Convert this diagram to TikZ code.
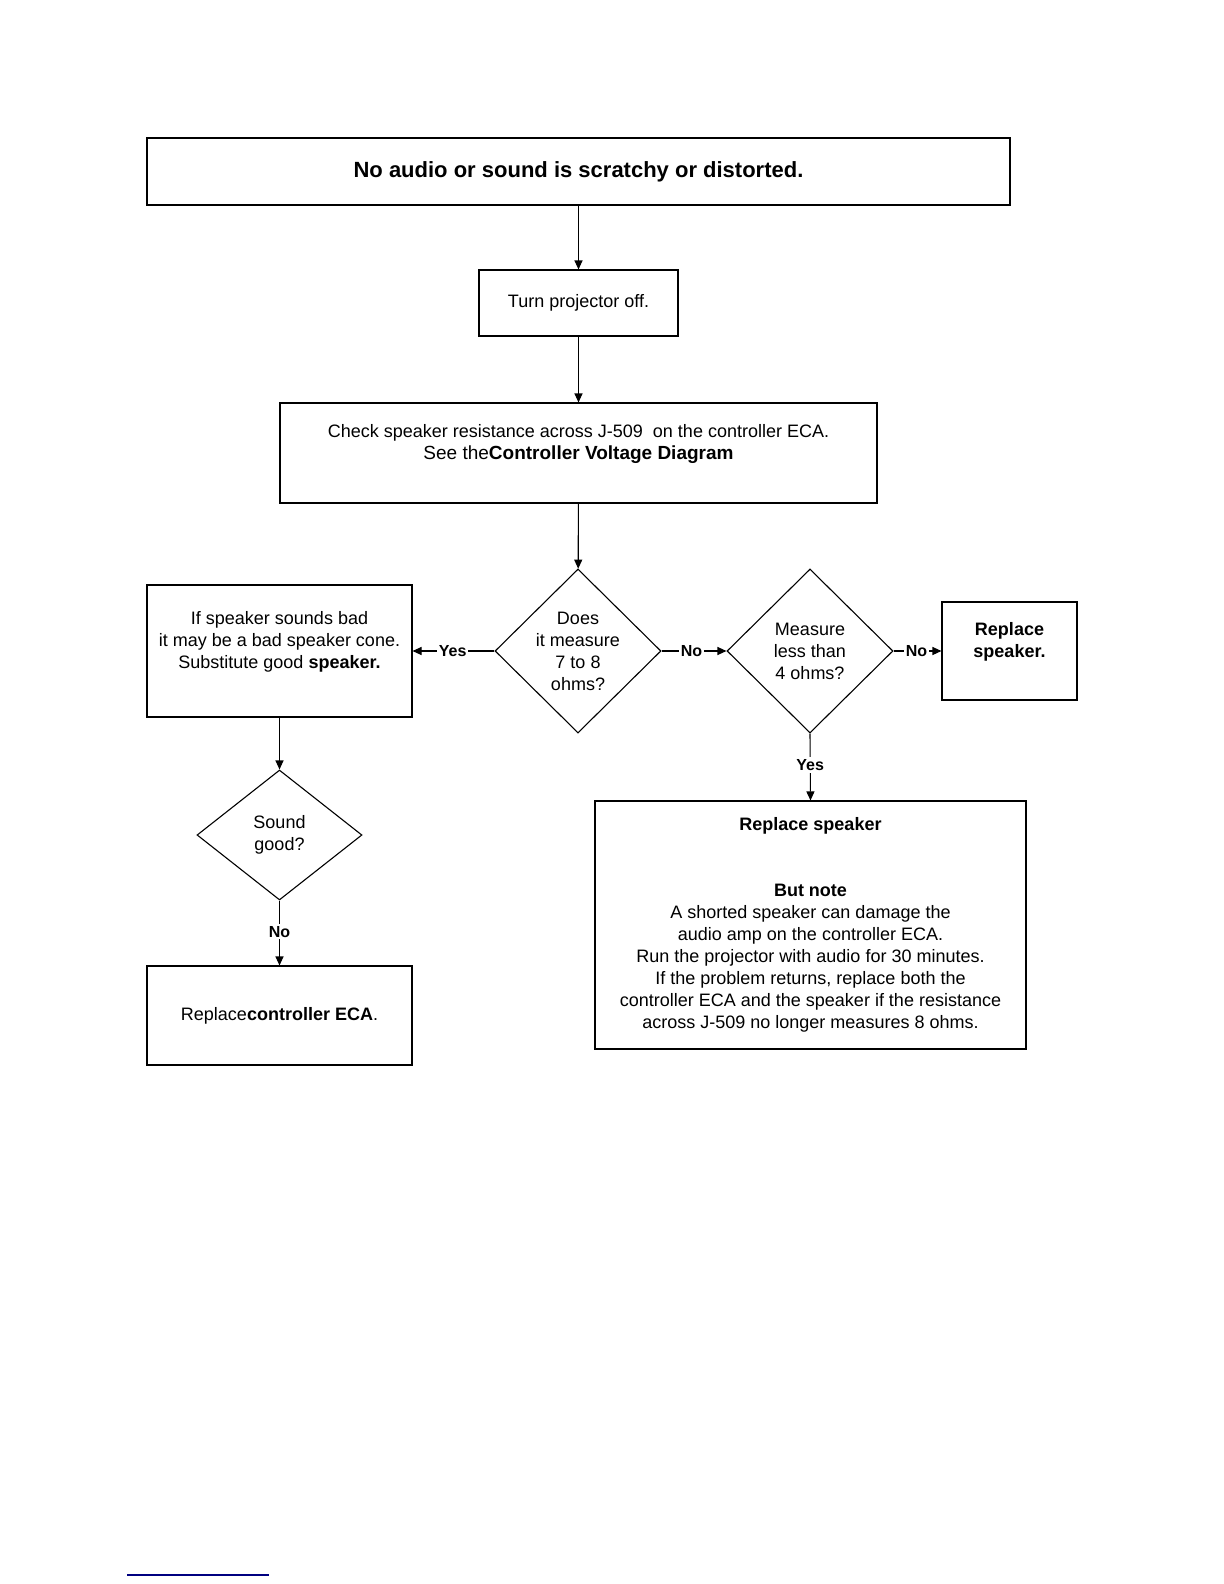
\documentclass[tikz,border=0pt]{standalone}
\usepackage{fontspec}
\setmainfont{Liberation Sans}
\usetikzlibrary{arrows.meta, positioning, shapes.geometric}

\tikzset{
  box/.style={draw, line width=0.55pt, align=center, inner sep=2pt,
    font=\fontsize{9}{11}\selectfont},
  decide/.style={draw, diamond, line width=0.55pt, inner sep=0pt},
  qtext/.style={align=center, font=\fontsize{9}{11}\selectfont},
  flow/.style={-{Triangle[length=4.5pt,width=4pt]}, line width=0.55pt},
  answer/.style={fill=white, inner sep=1pt, font=\bfseries\fontsize{8}{9}\selectfont},
}

\begin{document}
\begin{tikzpicture}[x=0.5pt, y=-0.5pt]
    \useasboundingbox (0,0) rectangle (1224,1584);

    % Kaesten
    \node[box, minimum width=431.5pt, minimum height=33.5pt] (title) at (578.5,171.5)
        {\bfseries\fontsize{11}{13}\selectfont No audio or sound is scratchy or distorted.};
    \node[box, minimum width=99.5pt, minimum height=33pt] (off) at (578.5,303) {Turn projector off.};
    \node[box, minimum width=298.5pt, minimum height=50pt] (check) at (578.5,453)
        {Check speaker resistance across J-509\ \ on the controller ECA.\\
         {\fontsize{9.5}{11}\selectfont See the\textbf{Controller Voltage Diagram}}\\ \mbox{}};

    % Entscheidungen
    \node[decide, minimum width=83pt, minimum height=82pt,
        label={[qtext]center:{Does\\it measure\\7 to 8\\ohms?}}] (measure) at (578,651) {};
    \node[decide, minimum width=83pt, minimum height=82pt,
        label={[qtext]center:{Measure\\less than\\4 ohms?}}] (less) at (810,651) {};
    \node[box, minimum width=67.5pt, minimum height=49pt] (replspk) at (1009.5,651)
        {\bfseries Replace\\ \bfseries speaker.\\ \mbox{}};
    \node[box, minimum width=132.5pt, minimum height=66pt] (cone) at (279.5,651)
        {If speaker sounds bad\\it may be a bad speaker cone.\\
         Substitute good \textbf{speaker.}\\ \mbox{}};
    \node[decide, minimum width=82.5pt, minimum height=65pt,
        label={[qtext]center:{Sound\\good?}}] (sound) at (279.5,835) {};
    \node[box, minimum width=132.5pt, minimum height=49.5pt] (replctl) at (279.5,1015.5)
        {Replace\textbf{controller ECA}.};
    \node[box, minimum width=215.5pt, minimum height=124pt] (note) at (810.5,925)
        {\textbf{Replace speaker}\\ \mbox{}\\ \mbox{}\\
         \textbf{But note}\\
         A shorted speaker can damage the\\
         audio amp on the controller ECA.\\
         Run the projector with audio for 30 minutes.\\
         If the problem returns, replace both the\\
         controller ECA and the speaker if the resistance\\
         across J-509 no longer measures 8 ohms.};

    % Verbindungen
    \draw[flow] (title) -- (off);
    \draw[flow] (off) -- (check);
    \draw[flow] (check) -- (measure);
    \draw[flow] (measure.west) -- (cone.east) node[answer, pos=0.51] {Yes};
    \draw[flow] (measure.east) -- (less.west) node[answer, pos=0.46] {No};
    \draw[flow] (less.east) -- (replspk.west) node[answer, pos=0.48] {No};
    \draw[flow] (less.south) -- (note.north) node[answer, pos=0.47] {Yes};
    \draw[flow] (cone) -- (sound);
    \draw[flow] (sound.south) -- (replctl.north) node[answer, pos=0.48] {No};

    % Linie unten
    \draw[blue!50!black, line width=0.7pt] (127,1575) -- (269,1575);
\end{tikzpicture}
\end{document}
